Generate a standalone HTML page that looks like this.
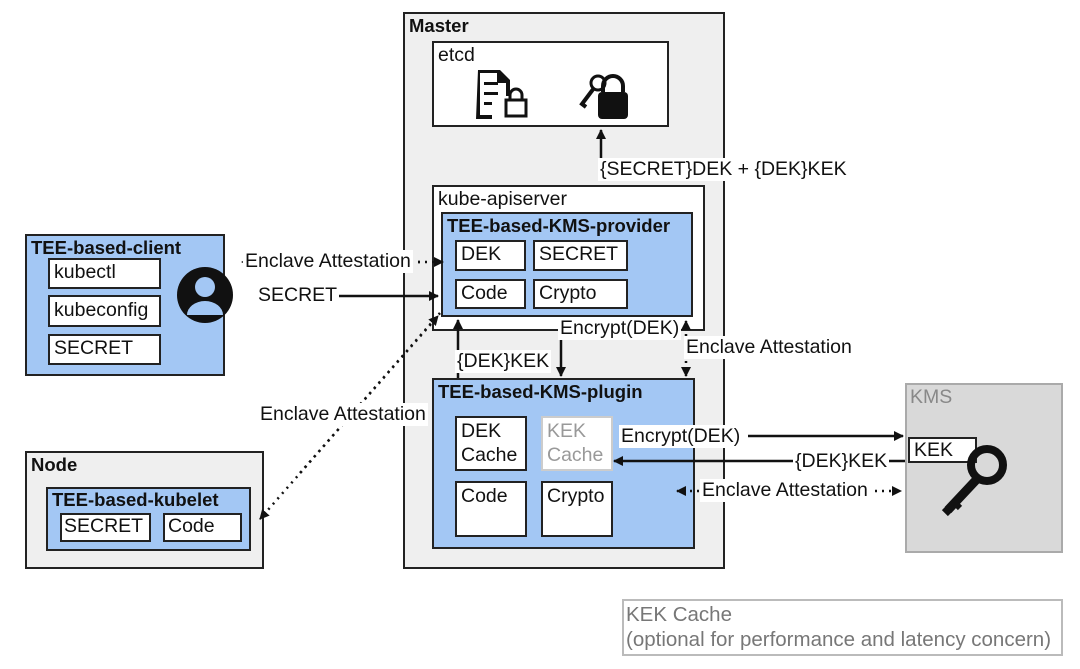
<!DOCTYPE html><html><head><style>
body{margin:0;width:1080px;height:669px;background:#fff;position:relative;overflow:hidden;font-family:"Liberation Sans",sans-serif;color:#111}
.b{position:absolute;box-sizing:border-box;border:2px solid #222}
.w{background:#fff}.g{background:#efefef}.bl{background:#a3c7f4}
.t{position:absolute;font-size:19.5px;white-space:nowrap;line-height:22px}
.bt{font-weight:bold;font-size:18.5px}
.lb{position:absolute;background:#fff;font-size:19.5px;white-space:nowrap;padding:0 2px;line-height:23px}
</style></head><body>
<div class="b g" style="left:403px;top:12px;width:322px;height:557px"></div>
<div class="t bt" style="left:409px;top:15px">Master</div>
<div class="b w" style="left:432px;top:41px;width:237px;height:86px"></div>
<div class="t" style="left:438px;top:44px">etcd</div>
<div class="b w" style="left:432px;top:185px;width:273px;height:146px"></div>
<div class="t" style="left:438px;top:188px">kube-apiserver</div>
<div class="b bl" style="left:441px;top:212px;width:252px;height:105px"></div>
<div class="t bt" style="left:447px;top:215px">TEE-based-KMS-provider</div>
<div class="b w" style="left:455px;top:240px;width:71px;height:31px"></div><div class="t" style="left:461px;top:243px">DEK</div>
<div class="b w" style="left:533px;top:240px;width:95px;height:31px"></div><div class="t" style="left:539px;top:243px">SECRET</div>
<div class="b w" style="left:455px;top:279px;width:71px;height:30px"></div><div class="t" style="left:461px;top:282px">Code</div>
<div class="b w" style="left:533px;top:279px;width:95px;height:30px"></div><div class="t" style="left:539px;top:282px">Crypto</div>
<div class="b bl" style="left:432px;top:378px;width:263px;height:171px"></div>
<div class="t bt" style="left:438px;top:381px">TEE-based-KMS-plugin</div>
<div class="b w" style="left:455px;top:416px;width:72px;height:55px"></div><div class="t" style="left:461px;top:419px;line-height:24px">DEK<br>Cache</div>
<div class="b w" style="left:541px;top:416px;width:72px;height:55px;border-color:#ccc"></div><div class="t" style="left:547px;top:419px;line-height:24px;color:#999">KEK<br>Cache</div>
<div class="b w" style="left:455px;top:481px;width:72px;height:56px"></div><div class="t" style="left:461px;top:485px">Code</div>
<div class="b w" style="left:541px;top:481px;width:72px;height:56px"></div><div class="t" style="left:547px;top:485px">Crypto</div>
<div class="b bl" style="left:25px;top:234px;width:200px;height:142px"></div>
<div class="t bt" style="left:31px;top:237px">TEE-based-client</div>
<div class="b w" style="left:48px;top:258px;width:113px;height:31px"></div><div class="t" style="left:54px;top:261px">kubectl</div>
<div class="b w" style="left:48px;top:295px;width:113px;height:32px"></div><div class="t" style="left:54px;top:299px">kubeconfig</div>
<div class="b w" style="left:48px;top:334px;width:113px;height:31px"></div><div class="t" style="left:54px;top:337px">SECRET</div>
<div class="b g" style="left:25px;top:451px;width:239px;height:118px"></div>
<div class="t bt" style="left:31px;top:454px">Node</div>
<div class="b bl" style="left:46px;top:487px;width:205px;height:64px"></div>
<div class="t bt" style="left:52px;top:489px">TEE-based-kubelet</div>
<div class="b w" style="left:60px;top:513px;width:91px;height:29px"></div><div class="t" style="left:64px;top:515px">SECRET</div>
<div class="b w" style="left:163px;top:513px;width:79px;height:29px"></div><div class="t" style="left:168px;top:515px">Code</div>
<div class="b" style="left:905px;top:383px;width:158px;height:170px;background:#d9d9d9;border-color:#aaa"></div>
<div class="t" style="left:910px;top:386px;color:#888">KMS</div>
<div class="b w" style="left:908px;top:437px;width:69px;height:26px"></div><div class="t" style="left:914px;top:439px">KEK</div>
<div class="b w" style="left:622px;top:599px;width:441px;height:57px;border-color:#bbb"></div>
<div class="t" style="left:626px;top:602px;color:#777;line-height:25px;font-size:20.5px">KEK Cache<br>(optional for performance and latency concern)</div>
<svg width="1080" height="669" style="position:absolute;left:0;top:0">
<defs><marker id="a" markerUnits="userSpaceOnUse" markerWidth="10" markerHeight="10" refX="9" refY="5" orient="auto"><path d="M0,0L10,5L0,10z" fill="#111"/></marker></defs>
<g stroke="#111" stroke-width="2.5" fill="none">
<path d="M601,160V130" marker-end="url(#a)"/>
<path d="M338,296H438" marker-end="url(#a)"/>
<path d="M458,378V320" marker-end="url(#a)"/>
<path d="M561,340V376" marker-end="url(#a)"/>
<path d="M748,436H903" marker-end="url(#a)"/>
<path d="M905,461H614" marker-end="url(#a)"/>
<g stroke-dasharray="2,5">
<path d="M250,262H443" marker-end="url(#a)"/><path d="M420,262H242" marker-end="url(#a)"/>
<path d="M440,313L260,519" marker-end="url(#a)"/><path d="M300,473L438,316" marker-end="url(#a)"/>
<path d="M686,340V376" marker-end="url(#a)"/><path d="M686,350V321" marker-end="url(#a)"/>
<path d="M700,491H901" marker-end="url(#a)"/><path d="M720,491H677" marker-end="url(#a)"/>
</g></g>
<g fill="#111">
<path d="M478,70h22l10,10v16h-4v-13h-9v-10h-17v42h12v4h-16z"/><rect x="484" y="82" width="14" height="3"/><rect x="484" y="92" width="14" height="3"/><rect x="484" y="102" width="8" height="3"/>
<rect x="506" y="100" width="20" height="16" fill="none" stroke="#111" stroke-width="3"/><path d="M510,100v-5a6,6 0 0 1 12,0v5" fill="none" stroke="#111" stroke-width="3"/>
<rect x="598" y="92" width="30" height="27" rx="4"/><path d="M603,92v-6a10,10 0 0 1 20,0v6" fill="none" stroke="#111" stroke-width="4"/>
<circle cx="598" cy="83" r="7" fill="none" stroke="#111" stroke-width="3"/><path d="M594,88L582,104l4,3" fill="none" stroke="#111" stroke-width="4"/>
<circle cx="205" cy="295" r="28"/><circle cx="205" cy="287" r="10" fill="#a3c7f4"/><path d="M187,315a18,14 0 0 1 36,0z" fill="#a3c7f4"/>
<circle cx="987" cy="465" r="16" fill="none" stroke="#111" stroke-width="8"/><path d="M978,478L948,510" stroke="#111" stroke-width="9"/><path d="M952,500l8,8M944,508l6,6" stroke="#111" stroke-width="6"/>
</g></svg>
<div class="lb" style="left:598px;top:158px">{SECRET}DEK + {DEK}KEK</div>
<div class="lb" style="left:243px;top:250px">Enclave Attestation</div>
<div class="lb" style="left:256px;top:284px">SECRET</div>
<div class="lb" style="left:258px;top:403px">Enclave Attestation</div>
<div class="lb" style="left:455px;top:350px">{DEK}KEK</div>
<div class="lb" style="left:558px;top:317px">Encrypt(DEK)</div>
<div class="lb" style="left:684px;top:336px">Enclave Attestation</div>
<div class="lb" style="left:619px;top:425px">Encrypt(DEK)</div>
<div class="lb" style="left:793px;top:450px">{DEK}KEK</div>
<div class="lb" style="left:700px;top:479px">Enclave Attestation</div>
</body></html>
